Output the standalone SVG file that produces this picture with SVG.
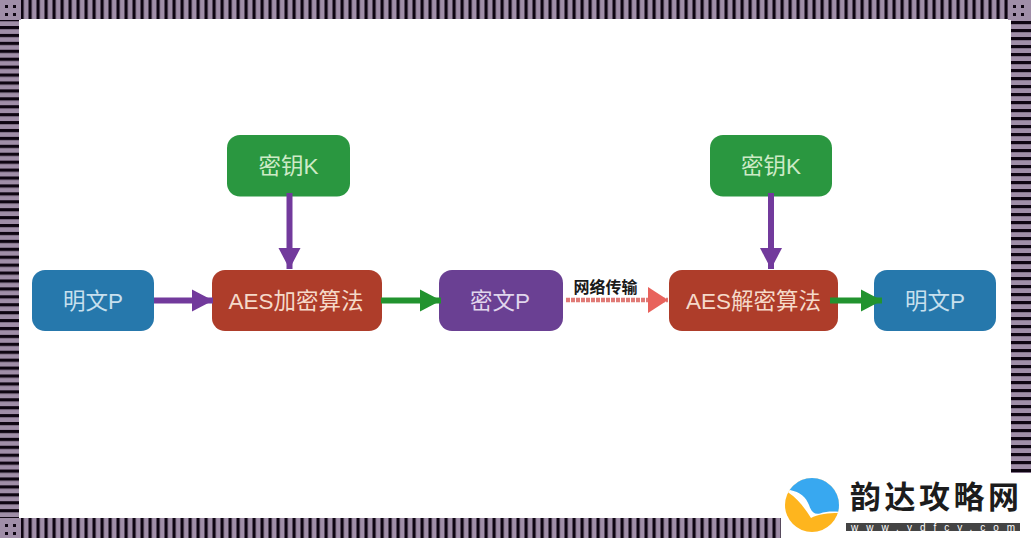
<svg xmlns="http://www.w3.org/2000/svg" width="1031" height="538" viewBox="0 0 1031 538">
<style>
.n{font-family:"Liberation Sans","Noto Sans CJK SC",sans-serif;font-size:22.5px;text-anchor:middle}
.a{stroke-width:6;fill:none}
.b{filter:url(#soft)}
</style>
<defs>
<filter id="soft" x="-5%" y="-5%" width="110%" height="110%"><feGaussianBlur stdDeviation="0.6"/></filter>
<pattern id="v" x="28.500" width="8" height="20" patternUnits="userSpaceOnUse"><rect width="8" height="20" fill="#a08ea8"/><rect width="3.200" height="20" fill="#0e0512"/></pattern>
<pattern id="h" y="26" width="20" height="7.920" patternUnits="userSpaceOnUse"><rect width="20" height="8" fill="#a08ea8"/><rect width="20" height="3.200" fill="#0e0512"/></pattern>
<pattern id="h2" x="1011" y="21" width="20" height="8" patternUnits="userSpaceOnUse"><rect width="20" height="8" fill="#a08ea8"/><rect width="20" height="3.200" fill="#0e0512"/></pattern>
<marker id="mp" markerUnits="userSpaceOnUse" markerWidth="22" markerHeight="24" refX="21" refY="12" orient="auto"><path d="M0 1L21 12L0 23Z" fill="#723a9c"/></marker>
<marker id="mg" markerUnits="userSpaceOnUse" markerWidth="22" markerHeight="24" refX="21" refY="12" orient="auto"><path d="M0 1L21 12L0 23Z" fill="#22932f"/></marker>
<marker id="mr" markerUnits="userSpaceOnUse" markerWidth="21" markerHeight="28" refX="20" refY="14" orient="auto"><path d="M0 1L20 14L0 27Z" fill="#e8625c"/></marker>
<clipPath id="disc"><circle cx="812" cy="505" r="27"/></clipPath>
</defs>
<rect width="1031" height="538" fill="#fff"/>
<g id="border">
<rect x="0" y="0" width="1031" height="19" fill="url(#v)"/>
<rect x="19" y="518" width="762" height="20" fill="url(#v)"/>
<rect x="0" y="0" width="19" height="538" fill="url(#h)"/>
<rect x="1011" y="0" width="20" height="473" fill="url(#h2)"/>
<g fill="#a08ea8"><rect width="21" height="20"/><rect x="1008" width="23" height="20"/><rect y="518" width="21" height="20"/></g>
<g fill="#0e0512"><rect x="5" y="5" width="3" height="3"/><rect x="13" y="5" width="3" height="3"/><rect x="5" y="13" width="3" height="3"/><rect x="13" y="13" width="3" height="3"/>
<rect x="1013" y="5" width="3" height="3"/><rect x="1021" y="5" width="3" height="3"/><rect x="1013" y="13" width="3" height="3"/><rect x="1021" y="13" width="3" height="3"/>
<rect x="5" y="524" width="3" height="3"/><rect x="13" y="524" width="3" height="3"/><rect x="5" y="532" width="3" height="3"/><rect x="13" y="532" width="3" height="3"/></g>
</g>
<g id="key1"><rect class="b" x="227" y="135" width="123" height="61.500" rx="13" fill="#2a9740"/><text class="n" x="288.500" y="174" fill="#cdeac6">密钥K</text></g>
<g id="key2"><rect class="b" x="710" y="135" width="122" height="61.500" rx="13" fill="#2a9740"/><text class="n" x="771" y="174" fill="#cdeac6">密钥K</text></g>
<g id="plain1"><rect class="b" x="32" y="270" width="122" height="61" rx="13" fill="#2878ac"/><text class="n" x="93" y="308.500" fill="#c8e0ee">明文P</text></g>
<g id="aes-enc"><rect class="b" x="212" y="270" width="170" height="61" rx="13" fill="#ae3d2b"/><text class="n" x="296" y="308.500" fill="#f5d9c9">AES加密算法</text></g>
<g id="cipher"><rect class="b" x="439" y="270" width="124" height="61" rx="13" fill="#6b4193"/><text class="n" x="500" y="308.500" fill="#e0d6ec">密文P</text></g>
<g id="aes-dec"><rect class="b" x="669" y="270" width="169" height="61" rx="13" fill="#ae3d2b"/><text class="n" x="753.500" y="308.500" fill="#f5d9c9">AES解密算法</text></g>
<g id="plain2"><rect class="b" x="874" y="270" width="122" height="61" rx="13" fill="#2878ac"/><text class="n" x="935" y="308.500" fill="#c8e0ee">明文P</text></g>
<g id="connectors">
<line class="a" x1="289.500" y1="193" x2="289.500" y2="269" stroke="#723a9c" marker-end="url(#mp)"/>
<line class="a" x1="771" y1="193" x2="771" y2="269" stroke="#723a9c" marker-end="url(#mp)"/>
<line class="a" x1="154" y1="300.500" x2="213" y2="300.500" stroke="#723a9c" marker-end="url(#mp)"/>
<line class="a" x1="381" y1="300.500" x2="441" y2="300.500" stroke="#22932f" marker-end="url(#mg)"/>
<line x1="566" y1="300" x2="668" y2="300" stroke="#e07a76" stroke-width="4.500" stroke-dasharray="4 1" marker-end="url(#mr)"/>
<line class="a" x1="830" y1="300.500" x2="882" y2="300.500" stroke="#22932f" marker-end="url(#mg)"/>
<text x="605.500" y="293" font-family="'Liberation Sans','Noto Sans CJK SC',sans-serif" font-size="16" font-weight="700" fill="#1a1a1a" text-anchor="middle">网络传输</text>
</g>
<g id="logo">
<rect x="781" y="473" width="250" height="65" fill="#fff"/>
<g clip-path="url(#disc)">
<rect x="780" y="470" width="64" height="70" fill="#feb51e"/>
<path d="M780 488L789 493C797 498 804 507 811 518C814 516 818 515 824 514C829 513 834 513 842 513L842 470L780 470Z" fill="#fff"/>
<path d="M780 487L790 490C800 492 806 497 809 505C811 511 814 515 820 513.500C826 511.500 832 511 842 512L842 470L780 470Z" fill="#38a8f0"/>
</g>
<text x="850" y="508" font-family="'Noto Sans CJK SC',sans-serif" font-size="31" font-weight="700" letter-spacing="3.500" fill="#1c1c1c">韵达攻略网</text>
<rect x="846" y="523" width="174" height="8" fill="#444"/>
<text x="851" y="530.500" font-family="'Liberation Sans',sans-serif" font-size="10" letter-spacing="8" fill="#fff">www.ydfcy.com</text>
</g>
</svg>
